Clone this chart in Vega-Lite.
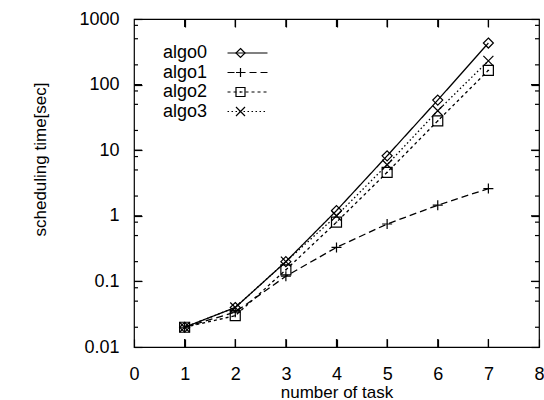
{
  "$schema": "https://vega.github.io/schema/vega-lite/v6.json",
  "width": 405,
  "height": 328,
  "autosize": "none",
  "padding": {"left": 134, "top": 19, "right": 5, "bottom": 53},
  "background": "white",
  "config": {
    "view": {"stroke": "black", "strokeWidth": 1.2},
    "font": "Liberation Sans",
    "axis": {
      "domain": false,
      "ticks": true,
      "tickColor": "black", "tickWidth": 1.2, "tickOpacity": 1,
      "labelColor": "black", "titleColor": "black",
      "grid": false,
      "labelFont": "Liberation Sans", "titleFont": "Liberation Sans",
      "titleFontWeight": "normal",
      "labelOverlap": false, "labelFlush": false
    }
  },
  "resolve": {"axis": {"x": "independent", "y": "independent"}},
  "data": {
    "values": [
      {"series": "algo0", "tasks": 1, "time": 0.02},
      {"series": "algo0", "tasks": 2, "time": 0.04},
      {"series": "algo0", "tasks": 3, "time": 0.2},
      {"series": "algo0", "tasks": 4, "time": 1.2},
      {"series": "algo0", "tasks": 5, "time": 8.2},
      {"series": "algo0", "tasks": 6, "time": 58},
      {"series": "algo0", "tasks": 7, "time": 430},
      {"series": "algo1", "tasks": 1, "time": 0.02},
      {"series": "algo1", "tasks": 2, "time": 0.034},
      {"series": "algo1", "tasks": 3, "time": 0.12},
      {"series": "algo1", "tasks": 4, "time": 0.33},
      {"series": "algo1", "tasks": 5, "time": 0.75},
      {"series": "algo1", "tasks": 6, "time": 1.45},
      {"series": "algo1", "tasks": 7, "time": 2.6},
      {"series": "algo2", "tasks": 1, "time": 0.02},
      {"series": "algo2", "tasks": 2, "time": 0.03},
      {"series": "algo2", "tasks": 3, "time": 0.15},
      {"series": "algo2", "tasks": 4, "time": 0.8},
      {"series": "algo2", "tasks": 5, "time": 4.6},
      {"series": "algo2", "tasks": 6, "time": 28},
      {"series": "algo2", "tasks": 7, "time": 165},
      {"series": "algo3", "tasks": 1, "time": 0.02},
      {"series": "algo3", "tasks": 2, "time": 0.04},
      {"series": "algo3", "tasks": 3, "time": 0.2},
      {"series": "algo3", "tasks": 4, "time": 1.0},
      {"series": "algo3", "tasks": 5, "time": 6.0},
      {"series": "algo3", "tasks": 6, "time": 40},
      {"series": "algo3", "tasks": 7, "time": 230}
    ]
  },
  "layer": [
    {
      "mark": {"type": "line", "color": "black", "strokeWidth": 1.3},
      "encoding": {
        "x": {
          "field": "tasks", "type": "quantitative",
          "scale": {"domain": [0, 8], "nice": false},
          "axis": {
            "orient": "bottom",
            "offset": -8,
            "ticks": true,
            "values": [0, 1, 2, 3, 4, 5, 6, 7, 8],
            "tickSize": 8,
            "labelFontSize": 18,
            "labelBaseline": "alphabetic",
            "labelPadding": 32,
            "format": "d",
            "title": "number of task",
            "titleFontSize": 17,
            "titleBaseline": "alphabetic",
            "titleY": 58
          }
        },
        "y": {
          "field": "time", "type": "quantitative",
          "scale": {"type": "log", "domain": [0.01, 1000], "nice": false},
          "axis": {
            "orient": "left",
            "offset": -8,
            "ticks": true,
            "values": [0.01, 0.1, 1, 10, 100, 1000],
            "tickSize": 8,
            "labelExpr": "format(datum.value, '~g')",
            "labelFontSize": 18,
            "labelPadding": 15,
            "labelBaseline": "middle",
            "title": "scheduling time[sec]",
            "titleFontSize": 17,
            "titleBaseline": "middle",
            "titleAngle": -90,
            "titleX": -102,
            "titleY": 140
          }
        },
        "strokeDash": {
          "field": "series", "type": "nominal",
          "scale": {"domain": ["algo0", "algo1", "algo2", "algo3"], "range": [[1, 0], [7, 4], [3, 3], [1.5, 2.5]]},
          "legend": {
            "orient": "none",
            "legendX": 104.5,
            "legendY": 25,
            "title": null,
            "padding": 0,
            "symbolType": "M-4.44,0L4.44,0",
            "symbolSize": 81,
            "symbolStrokeWidth": 1.2,
            "symbolStrokeColor": "black",
            "symbolFillColor": "transparent",
            "labelFont": "Liberation Sans",
            "labelFontSize": 18,
            "labelColor": "black",
            "labelAlign": "right",
            "labelOffset": -49.5,
            "rowPadding": 1.5
          }
        }
      }
    },
    {
      "mark": {"type": "point", "filled": false, "color": "black", "size": 100, "strokeWidth": 1.2, "opacity": 1},
      "encoding": {
        "x": {
          "field": "tasks", "type": "quantitative",
          "axis": {
            "orient": "top",
            "offset": -8,
            "ticks": true,
            "values": [1, 2, 3, 4, 5, 6, 7],
            "tickSize": 8,
            "labels": false,
            "title": null
          }
        },
        "y": {
          "field": "time", "type": "quantitative",
          "axis": {
            "orient": "right",
            "offset": -8,
            "ticks": true,
            "values": [0.01, 0.1, 1, 10, 100, 1000],
            "tickSize": 8,
            "labels": false,
            "title": null
          }
        },
        "shape": {
          "field": "series", "type": "nominal",
          "scale": {
            "range": [
              "M0,-1L1,0L0,1L-1,0Z",
              "M-1,0L1,0M0,-1L0,1",
              "M-1,-1L1,-1L1,1L-1,1ZM-0.15,0L0.15,0",
              "M-1,-1L1,1M1,-1L-1,1"
            ]
          },
          "legend": {
            "orient": "none",
            "legendX": 97.5,
            "legendY": 25,
            "title": null,
            "padding": 0,
            "symbolSize": 81,
            "symbolStrokeWidth": 1.2,
            "symbolStrokeColor": "black",
            "symbolFillColor": "white",
            "symbolOpacity": 1,
            "labelFont": "Liberation Sans",
            "labelFontSize": 18,
            "labelColor": "transparent",
            "labelAlign": "right",
            "labelOffset": -49.5,
            "rowPadding": 1.5
          }
        }
      }
    },
    {
      "data": {"values": [{"v": 1}, {"v": 2}, {"v": 3}, {"v": 4}, {"v": 5}, {"v": 6}, {"v": 7}]},
      "mark": {"type": "tick", "orient": "vertical", "size": 16, "thickness": 1.2, "color": "black", "opacity": 1, "clip": true},
      "encoding": {
        "x": {"field": "v", "type": "quantitative", "axis": null},
        "y": {"datum": 0.01, "type": "quantitative", "axis": null}
      }
    },
    {
      "data": {"values": [{"v": 1}, {"v": 2}, {"v": 3}, {"v": 4}, {"v": 5}, {"v": 6}, {"v": 7}]},
      "mark": {"type": "tick", "orient": "vertical", "size": 16, "thickness": 1.2, "color": "black", "opacity": 1, "clip": true},
      "encoding": {
        "x": {"field": "v", "type": "quantitative", "axis": null},
        "y": {"datum": 1000, "type": "quantitative", "axis": null}
      }
    },
    {
      "data": {"values": [{"v": 0.1}, {"v": 1}, {"v": 10}, {"v": 100}]},
      "mark": {"type": "tick", "orient": "horizontal", "size": 16, "thickness": 1.2, "color": "black", "opacity": 1, "clip": true},
      "encoding": {
        "y": {"field": "v", "type": "quantitative", "axis": null},
        "x": {"datum": 0, "type": "quantitative", "axis": null}
      }
    },
    {
      "data": {"values": [{"v": 0.1}, {"v": 1}, {"v": 10}, {"v": 100}]},
      "mark": {"type": "tick", "orient": "horizontal", "size": 16, "thickness": 1.2, "color": "black", "opacity": 1, "clip": true},
      "encoding": {
        "y": {"field": "v", "type": "quantitative", "axis": null},
        "x": {"datum": 8, "type": "quantitative", "axis": null}
      }
    },
    {
      "data": {"values": [{"v": 0.02}, {"v": 0.05}, {"v": 0.08}, {"v": 0.2}, {"v": 0.5}, {"v": 0.8}, {"v": 2}, {"v": 5}, {"v": 8}, {"v": 20}, {"v": 50}, {"v": 80}, {"v": 200}, {"v": 500}, {"v": 800}]},
      "mark": {"type": "tick", "orient": "horizontal", "size": 8, "thickness": 1.2, "color": "black", "opacity": 1, "clip": true},
      "encoding": {
        "y": {"field": "v", "type": "quantitative", "axis": null},
        "x": {"datum": 0, "type": "quantitative", "axis": null}
      }
    },
    {
      "data": {"values": [{"v": 0.02}, {"v": 0.05}, {"v": 0.08}, {"v": 0.2}, {"v": 0.5}, {"v": 0.8}, {"v": 2}, {"v": 5}, {"v": 8}, {"v": 20}, {"v": 50}, {"v": 80}, {"v": 200}, {"v": 500}, {"v": 800}]},
      "mark": {"type": "tick", "orient": "horizontal", "size": 8, "thickness": 1.2, "color": "black", "opacity": 1, "clip": true},
      "encoding": {
        "y": {"field": "v", "type": "quantitative", "axis": null},
        "x": {"datum": 8, "type": "quantitative", "axis": null}
      }
    }
  ]
}
